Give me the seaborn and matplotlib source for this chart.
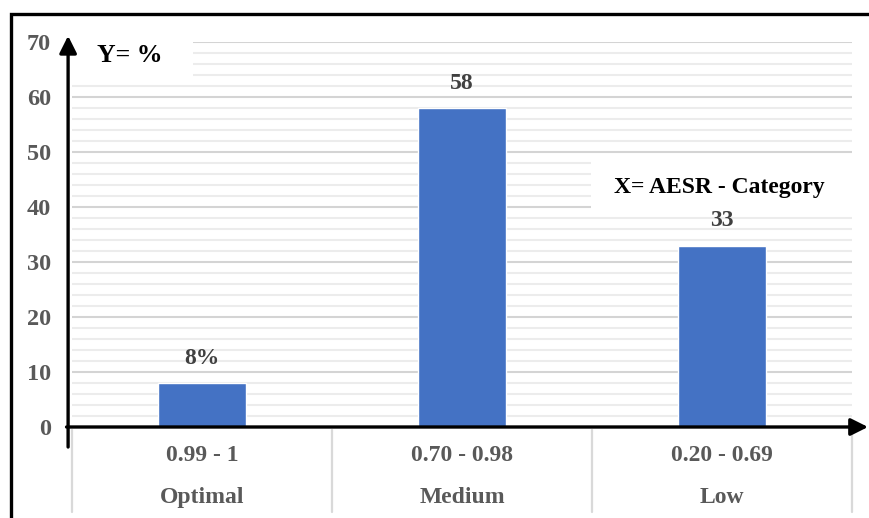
import matplotlib
matplotlib.use("Agg")
import matplotlib.pyplot as plt
import matplotlib.transforms as mtransforms
from matplotlib.patches import Rectangle
import seaborn as sns
import pandas as pd

# AESR categories and share of cases (%)
ranges = ["0.99 - 1", "0.70 - 0.98", "0.20 - 0.69"]
categories = ["Optimal", "Medium", "Low"]
percent = [8, 58, 33]
value_labels = ["8%", "58", "33"]
y_ticks = [0, 10, 20, 30, 40, 50, 60, 70]

df = pd.DataFrame({"range": ranges, "category": categories, "percent": percent})

sns.set_theme(style="white")
plt.rcParams["font.family"] = ["Liberation Serif", "DejaVu Serif"]
plt.rcParams["font.weight"] = "bold"

fig = plt.figure(figsize=(8.69, 5.18), dpi=100)
ax = fig.add_axes([72 / 869, 1 - 427 / 518, 780 / 869, 385 / 518])

sns.barplot(data=df, x="range", y="percent", color="#4472C4", width=0.335,
            saturation=1, ax=ax, zorder=3)

ax.set_xlim(-0.5, 2.5)
ax.set_ylim(0, 70)
ax.set_xlabel("")
ax.set_ylabel("")
for s in ax.spines.values():
    s.set_visible(False)

# major and minor horizontal gridlines
ax.set_yticks(y_ticks)
ax.set_yticks(range(0, 71, 2), minor=True)
ax.grid(axis="y", which="major", color="#d4d4d4", lw=1.5)
ax.grid(axis="y", which="minor", color="#ececec", lw=1.5)
ax.set_axisbelow(True)
ax.tick_params(axis="y", which="both", length=0, pad=15, labelsize=17.5,
               labelcolor="#595959")
for t in ax.get_yticklabels():
    t.set_fontweight("bold")

# two-level category axis
ax.set_xticks([0, 1, 2])
ax.set_xticklabels([])
ax.tick_params(axis="x", length=0)
tx = mtransforms.blended_transform_factory(ax.transData, ax.transAxes)
for i, (r, c) in enumerate(zip(ranges, categories)):
    ax.text(i, -0.073, r, transform=tx, ha="center", va="center",
            fontsize=17, fontweight="bold", color="#595959")
    ax.text(i, -0.182, c, transform=tx, ha="center", va="center",
            fontsize=17, fontweight="bold", color="#595959")
for xb in [-0.5, 0.5, 1.5, 2.5]:
    ax.plot([xb, xb], [-0.008, -0.222], transform=tx, color="#d9d9d9",
            lw=1.6, clip_on=False)

# value labels above bars
for i, (v, lab) in enumerate(zip(percent, value_labels)):
    ax.annotate(lab, xy=(i, v), xytext=(0, 18), textcoords="offset points",
                ha="center", va="center", fontsize=17, fontweight="bold",
                color="#404040", zorder=5)

# axis arrows
ax.annotate("", xy=(-0.005, 1.016), xytext=(-0.005, -0.052),
            xycoords="axes fraction",
            arrowprops=dict(arrowstyle="-|>", lw=2.4, color="black",
                            mutation_scale=26, shrinkA=0, shrinkB=0),
            annotation_clip=False)
ax.annotate("", xy=(1.0205, 0.0), xytext=(-0.007, 0.0),
            xycoords="axes fraction",
            arrowprops=dict(arrowstyle="-|>", lw=2.4, color="black",
                            mutation_scale=26, shrinkA=0, shrinkB=0),
            annotation_clip=False)

# axis captions on white panels
ax.add_patch(Rectangle((0.0, 0.901), 0.155, 0.118, transform=ax.transAxes,
                       facecolor="white", edgecolor="none", zorder=1,
                       clip_on=False))
ax.add_patch(Rectangle((0.665, 0.558), 0.337, 0.143, transform=ax.transAxes,
                       facecolor="white", edgecolor="none", zorder=1,
                       clip_on=False))
ax.text(0.032, 0.964, "Y= %", transform=ax.transAxes, ha="left", va="center",
        fontsize=18.5, fontweight="bold", color="black", zorder=5)
ax.text(0.830, 0.623, "X= AESR - Category", transform=ax.transAxes,
        ha="center", va="center", fontsize=17, fontweight="bold",
        color="black", zorder=5)

# outer frame
fig.add_artist(Rectangle((11 / 869, -0.1), 1.2, 1.1 - 14 / 518,
                         transform=fig.transFigure, facecolor="none",
                         edgecolor="black", lw=2.4))

fig.savefig("out.png", dpi=100)
